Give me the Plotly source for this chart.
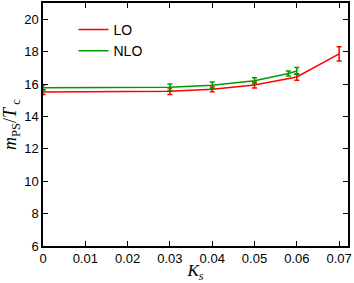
import plotly.graph_objects as go

lo_x = [0.0, 0.03, 0.04, 0.05, 0.06, 0.07]
lo_y = [15.50, 15.55, 15.67, 15.94, 16.43, 17.86]
lo_err = [0.15, 0.2, 0.15, 0.18, 0.2, 0.44]

nlo_x = [0.0, 0.03, 0.04, 0.05, 0.058, 0.06]
nlo_y = [15.77, 15.80, 15.92, 16.20, 16.65, 16.80]
nlo_err = [0.15, 0.2, 0.2, 0.18, 0.15, 0.22]

x_ticks = [0, 0.01, 0.02, 0.03, 0.04, 0.05, 0.06, 0.07]
x_labels = ["0", "0.01", "0.02", "0.03", "0.04", "0.05", "0.06", "0.07"]
y_ticks = [6, 8, 10, 12, 14, 16, 18, 20]

fig = go.Figure()
fig.add_trace(go.Scatter(x=lo_x, y=lo_y, mode="lines", name="LO",
                         line=dict(color="#ff0000", width=1.5),
                         error_y=dict(type="data", array=lo_err, color="#ff0000",
                                      thickness=1.5, width=2.5)))
fig.add_trace(go.Scatter(x=nlo_x, y=nlo_y, mode="lines", name="NLO",
                         line=dict(color="#009900", width=1.5),
                         error_y=dict(type="data", array=nlo_err, color="#009900",
                                      thickness=1.5, width=2.5)))

axis_common = dict(showline=True, linecolor="black", linewidth=1.5, mirror="ticks",
                   ticks="inside", ticklen=5, tickcolor="black", tickwidth=1,
                   showgrid=False, zeroline=False, automargin=False,
                   tickfont=dict(family="Liberation Sans", size=13, color="black"))

fig.update_xaxes(range=[0, 0.0721], tickvals=x_ticks, ticktext=x_labels,
                 title=dict(text="<i>K</i><sub><i>s</i></sub>",
                            font=dict(family="Liberation Serif", size=17, color="black"),
                            standoff=2),
                 **axis_common)
fig.update_yaxes(range=[6, 21], tickvals=y_ticks,
                 title=dict(text="<i>m</i><sub>PS</sub>/<i>T</i><sub> c</sub>",
                            font=dict(family="Liberation Serif", size=18, color="black"),
                            standoff=4),
                 **axis_common)

fig.update_layout(
    width=354, height=283,
    margin=dict(l=43, r=6, t=3, b=37),
    plot_bgcolor="white", paper_bgcolor="white",
    showlegend=True,
    legend=dict(x=0.1, y=0.955, xanchor="left", yanchor="top",
                bgcolor="rgba(0,0,0,0)", borderwidth=0,
                font=dict(family="Liberation Sans", size=14, color="black"),
                itemwidth=30, tracegroupgap=0),
)

fig.write_html("out.html", config={"displayModeBar": False},
               post_script="document.body.style.margin='0';document.body.style.overflow='hidden';")
